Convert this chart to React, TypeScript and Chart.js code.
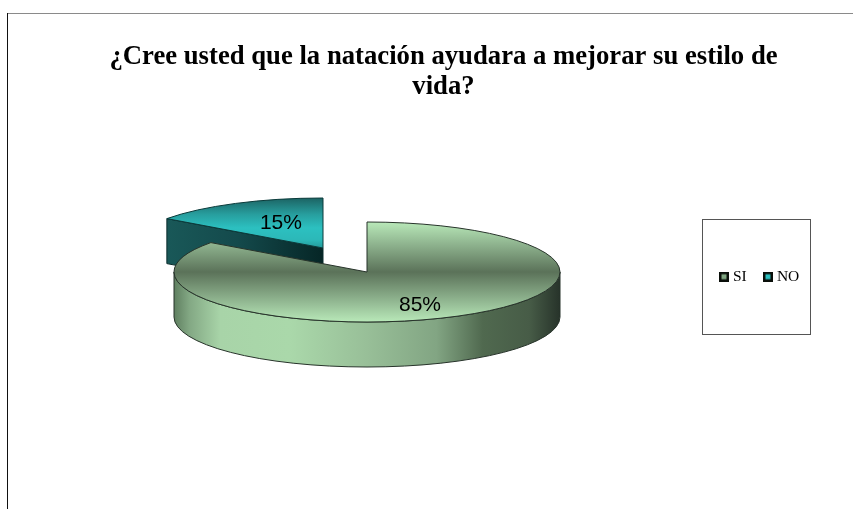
import React, { useEffect, useRef } from "react";
import { Chart, registerables } from "chart.js";

Chart.register(...registerables);

const categories = ["SI", "NO"];
const values = [85, 15];
const titleLines = ["¿Cree usted que la natación ayudara a mejorar su estilo de", "vida?"];
const legendColors = ["#7fa580", "#2cc0c0"];

const W = 853;
const H = 509;
const RADIUS = 193;
const TILT = 50 / 193;
const DEPTH = 45;
const CENTERS = [
  { x: 367, y: 272 },
  { x: 323, y: 248 },
];
// label placement: fraction of the radius along the slice's mid angle, and a vertical nudge
const LABEL_RADIUS = [0.605, 0.48];
const LABEL_NUDGE = [6, -3];

function topGradient(ctx: CanvasRenderingContext2D, cy: number, i: number) {
  const g = ctx.createLinearGradient(0, cy - RADIUS, 0, cy + RADIUS);
  if (i === 0) {
    g.addColorStop(0, "#b9e9b9");
    g.addColorStop(0.22, "#8fb48f");
    g.addColorStop(0.5, "#5b7259");
    g.addColorStop(0.78, "#8fb48f");
    g.addColorStop(1, "#b9e9b9");
  } else {
    g.addColorStop(0, "#1c6464");
    g.addColorStop(0.16, "#279d9d");
    g.addColorStop(0.3, "#2cc0c0");
    g.addColorStop(0.42, "#2cb8b8");
    g.addColorStop(0.5, "#249a9a");
  }
  return g;
}

function makeSwatch(color: string) {
  const cv = document.createElement("canvas");
  cv.width = 10;
  cv.height = 10;
  const c = cv.getContext("2d") as CanvasRenderingContext2D;
  c.fillStyle = "#0a0f0a";
  c.fillRect(0, 0, 10, 10);
  c.fillStyle = color;
  c.fillRect(2.5, 2.5, 5, 5);
  return cv;
}

const pie3d = {
  id: "pie3d",
  beforeDraw(chart: any) {
    const { ctx } = chart;
    ctx.save();
    ctx.strokeStyle = "#8a8a8a";
    ctx.lineWidth = 1;
    ctx.beginPath();
    ctx.moveTo(7, 13.5);
    ctx.lineTo(W, 13.5);
    ctx.stroke();
    ctx.strokeStyle = "#111";
    ctx.beginPath();
    ctx.moveTo(7.5, 13);
    ctx.lineTo(7.5, H);
    ctx.stroke();
    ctx.strokeStyle = "#555";
    ctx.strokeRect(702.5, 219.5, 108, 115);
    ctx.restore();
  },
  afterUpdate(chart: any) {
    const lg = chart.legend;
    if (!lg) return;
    lg.left = 702.8;
    lg.right = W;
    lg.top = 249;
    lg.bottom = 290;
  },
  beforeDatasetsDraw(chart: any) {
    const { ctx } = chart;
    const arcs = chart.getDatasetMeta(0).data;
    const draw = (i: number) => {
      const arc = arcs[i];
      const c = CENTERS[i];
      const r = arc.outerRadius;
      const ry = r * TILT;
      const a0 = arc.startAngle;
      const a1 = arc.endAngle;

      if (i === 1) {
        // cut face that looks toward the viewer
        const tx = c.x + Math.cos(a0) * r;
        const ty = c.y + Math.sin(a0) * ry;
        const g = ctx.createLinearGradient(tx, 0, c.x, 0);
        g.addColorStop(0, "#195858");
        g.addColorStop(0.45, "#144a4c");
        g.addColorStop(1, "#062626");
        ctx.beginPath();
        ctx.moveTo(tx, ty);
        ctx.lineTo(c.x, c.y);
        ctx.lineTo(c.x, c.y + DEPTH);
        ctx.lineTo(tx, ty + DEPTH);
        ctx.closePath();
        ctx.fillStyle = g;
        ctx.fill();
        ctx.strokeStyle = "#0a2c2c";
        ctx.lineWidth = 1;
        ctx.stroke();
      } else {
        // outer rim, front half
        const g = ctx.createLinearGradient(c.x - r, 0, c.x + r, 0);
        g.addColorStop(0, "#5f7f60");
        g.addColorStop(0.04, "#83a884");
        g.addColorStop(0.12, "#a8d4a8");
        g.addColorStop(0.3, "#aad8aa");
        g.addColorStop(0.5, "#98bf98");
        g.addColorStop(0.68, "#82a583");
        g.addColorStop(0.8, "#50694f");
        g.addColorStop(0.92, "#475c47");
        g.addColorStop(1, "#27332a");
        ctx.beginPath();
        ctx.ellipse(c.x, c.y, r, ry, 0, 0, Math.PI);
        ctx.lineTo(c.x - r, c.y + DEPTH);
        ctx.ellipse(c.x, c.y + DEPTH, r, ry, 0, Math.PI, 0, true);
        ctx.closePath();
        ctx.fillStyle = g;
        ctx.fill();
        ctx.strokeStyle = "#27332a";
        ctx.lineWidth = 1;
        ctx.stroke();
      }

      // top face: the library's arc, flattened and moved
      ctx.save();
      ctx.translate(c.x, c.y);
      ctx.scale(1, TILT);
      ctx.translate(-arc.x, -arc.y);
      arc.draw(ctx);
      ctx.restore();

      ctx.beginPath();
      ctx.moveTo(c.x, c.y);
      ctx.ellipse(c.x, c.y, r, ry, 0, a0, a1);
      ctx.closePath();
      ctx.strokeStyle = i === 0 ? "#27332a" : "#0a3a3a";
      ctx.lineWidth = 1;
      ctx.stroke();
    };

    draw(1);
    draw(0);

    ctx.save();
    ctx.fillStyle = "#000";
    ctx.font = "21px 'Liberation Sans'";
    ctx.textAlign = "center";
    ctx.textBaseline = "middle";
    const total = values.reduce((s, v) => s + v, 0);
    values.forEach((v, i) => {
      const arc = arcs[i];
      const mid = (arc.startAngle + arc.endAngle) / 2;
      const rr = arc.outerRadius * LABEL_RADIUS[i];
      const x = CENTERS[i].x + Math.cos(mid) * rr;
      const y = CENTERS[i].y + Math.sin(mid) * rr * TILT + LABEL_NUDGE[i];
      ctx.fillText(`${Math.round((v / total) * 100)}%`, x, y);
    });
    ctx.restore();
    return false;
  },
};

export default function App() {
  const ref = useRef<HTMLCanvasElement>(null);
  useEffect(() => {
    document.body.style.margin = "0";
    const swatches = legendColors.map(makeSwatch);
    const chart = new Chart(ref.current as HTMLCanvasElement, {
      type: "pie",
      data: {
        labels: categories,
        datasets: [
          {
            data: values,
            borderWidth: 0,
            backgroundColor: (c: any) => {
              const area = c.chart.chartArea;
              if (!area) return "#888";
              return topGradient(c.chart.ctx, (area.top + area.bottom) / 2, c.dataIndex);
            },
          },
        ],
      },
      options: {
        responsive: false,
        animation: false,
        radius: RADIUS,
        layout: { padding: { left: 34, top: 42 } },
        events: [],
        plugins: {
          tooltip: { enabled: false },
          title: {
            display: true,
            text: titleLines,
            color: "#000",
            font: { family: "'Liberation Serif'", size: 26.7, weight: "bold", lineHeight: 1.12 },
            padding: 0,
          },
          legend: {
            display: true,
            position: "bottom",
            align: "start",
            labels: {
              usePointStyle: true,
              pointStyleWidth: 2.4,
              boxHeight: 10,
              padding: 20,
              color: "#000",
              font: { family: "'Liberation Serif'", size: 15.5 },
              generateLabels: () =>
                categories.map((t, i) => ({
                  text: t,
                  fillStyle: legendColors[i],
                  strokeStyle: "#0a0f0a",
                  pointStyle: swatches[i],
                  lineWidth: 0,
                  index: i,
                  hidden: false,
                })),
            },
          },
        },
      } as any,
      plugins: [pie3d as any],
    });
    return () => chart.destroy();
  }, []);
  return <canvas ref={ref} width={W} height={H} style={{ display: "block" }} />;
}
